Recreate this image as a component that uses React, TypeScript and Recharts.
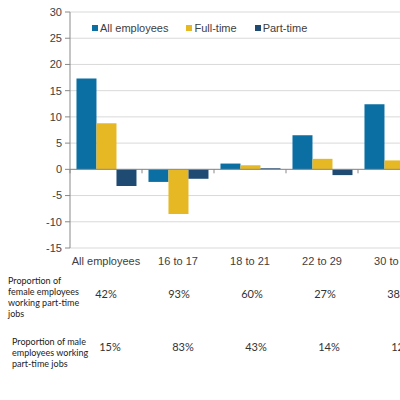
import { Bar, BarChart, CartesianGrid, Legend, ReferenceLine, XAxis, YAxis } from "recharts";

const categories = ["All employees", "16 to 17", "18 to 21", "22 to 29", "30 to 39"];
const allEmployees = [17.3, -2.4, 1.1, 6.5, 12.4];
const fullTime = [8.8, -8.5, 0.8, 2.0, 1.7];
const partTime = [-3.2, -1.8, 0.2, -1.1, -0.6];
const yTicks = [-15, -10, -5, 0, 5, 10, 15, 20, 25, 30];
const femaleShare = ["42%", "93%", "60%", "27%", "38%"];
const maleShare = ["15%", "83%", "43%", "14%", "12%"];

const data = categories.map((name, i) => ({
  name,
  all: allEmployees[i],
  full: fullTime[i],
  part: partTime[i],
}));

const W = 430;
const H = 270;
const M = { top: 12, right: 0, left: 0, bottom: 2 };
const Y_W = 70;
const X_H = 20;
const plotH = H - M.top - M.bottom - X_H;
const zeroY = M.top + (plotH * 30) / 45;
const bandW = (W - Y_W - M.right) / categories.length;

const axisFont = "'Liberation Sans', Arial, sans-serif";
const noteFont = "Lato, 'Open Sans', sans-serif";

function CategoryTick(props: any) {
  const { x, y, payload } = props;
  const half = payload.offset ?? bandW / 2;
  return (
    <g>
      <line x1={x - half} x2={x - half} y1={zeroY} y2={zeroY + 4} stroke="#898989" />
      <text x={x} y={y + 9} textAnchor="middle" fontSize={11} fill="#404040" fontFamily={axisFont}>
        {payload.value}
      </text>
    </g>
  );
}

function LegendContent(props: any) {
  const { payload } = props;
  return (
    <div style={{ display: "flex", gap: 18, fontFamily: axisFont, fontSize: 11, color: "#404040" }}>
      {payload.map((p: any) => (
        <span key={p.value} style={{ display: "flex", alignItems: "center" }}>
          <span style={{ width: 6, height: 6, background: p.color, marginRight: 2, display: "inline-block" }} />
          {p.value}
        </span>
      ))}
    </div>
  );
}

export default function App() {
  const noteStyle = {
    position: "absolute" as const,
    fontFamily: noteFont,
    fontSize: 9,
    lineHeight: "11px",
    color: "#222",
  };
  const pctStyle = {
    position: "absolute" as const,
    fontFamily: noteFont,
    fontSize: 11,
    color: "#333",
    transform: "translateX(-50%)",
    whiteSpace: "nowrap" as const,
  };
  return (
    <div
      style={{
        position: "fixed",
        left: 0,
        top: 0,
        width: 400,
        height: 400,
        overflow: "hidden",
        background: "#fff",
      }}
    >
      <BarChart width={W} height={H} data={data} margin={M} barCategoryGap="9%" barGap={0}>
        <CartesianGrid vertical={false} stroke="#d9d9d9" />
        <XAxis
          dataKey="name"
          height={X_H}
          axisLine={false}
          tickLine={false}
          interval={0}
          tick={<CategoryTick />}
        />
        <YAxis
          width={Y_W}
          domain={[-15, 30]}
          ticks={yTicks}
          interval={0}
          axisLine={{ stroke: "#898989" }}
          tickLine={{ stroke: "#898989" }}
          tickSize={5}
          tickMargin={3}
          tick={{ fontSize: 11, fill: "#404040", fontFamily: axisFont }}
        />
        <ReferenceLine y={0} stroke="#898989" />
        <Legend
          layout="horizontal"
          verticalAlign="middle"
          align="center"
          content={<LegendContent />}
          wrapperStyle={{ position: "absolute", top: 22, left: 92, width: "auto" }}
        />
        <Bar dataKey="all" name="All employees" fill="#0B6FA4" isAnimationActive={false} />
        <Bar dataKey="full" name="Full-time" fill="#E6B824" isAnimationActive={false} />
        <Bar dataKey="part" name="Part-time" fill="#1F4A72" isAnimationActive={false} />
      </BarChart>

      <div style={{ ...noteStyle, left: 8, top: 275, width: 72 }}>
        Proportion of female employees working part-time jobs
      </div>
      <div style={{ ...noteStyle, left: 12, top: 336, width: 80 }}>
        Proportion of male employees working part-time jobs
      </div>
      {femaleShare.map((v, i) => (
        <span key={"f" + i} style={{ ...pctStyle, left: Y_W + bandW * (i + 0.5) + i, top: 287 }}>
          {v}
        </span>
      ))}
      {maleShare.map((v, i) => (
        <span key={"m" + i} style={{ ...pctStyle, left: Y_W + bandW * (i + 0.5) + 4 + i, top: 340 }}>
          {v}
        </span>
      ))}
    </div>
  );
}
